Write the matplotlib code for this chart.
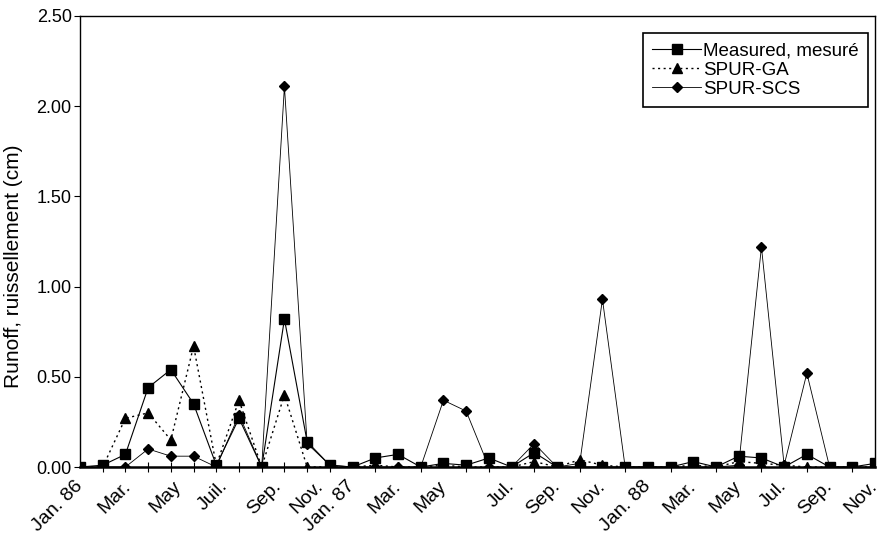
import matplotlib
matplotlib.use("Agg")
import matplotlib.pyplot as plt
from matplotlib.ticker import FixedLocator, FixedFormatter, MultipleLocator, FormatStrFormatter

plt.rcParams['font.family'] = ['Liberation Sans', 'DejaVu Sans']

# monthly runoff values (cm), Jan 86 -> Nov 88 (36 categories)
measured = [0, 0.01, 0.07, 0.44, 0.54, 0.35, 0.01, 0.27, 0, 0.82, 0.14, 0.01, 0,
            0.05, 0.07, 0, 0.02, 0.01, 0.05, 0, 0.08, 0, 0, 0, 0,
            0, 0, 0.03, 0, 0.06, 0.05, 0, 0.07, 0, 0, 0.02]
spur_ga = [0, 0, 0.27, 0.30, 0.15, 0.67, 0.01, 0.37, 0, 0.40, 0, 0, 0,
           0.01, 0, 0, 0.01, 0, 0, 0, 0.03, 0, 0.04, 0.01, 0,
           0, 0, 0.01, 0, 0.03, 0.02, 0.01, 0, 0, 0, 0]
spur_scs = [0, 0, 0, 0.10, 0.06, 0.06, 0, 0.29, 0, 2.11, 0.13, 0.01, 0,
            0, 0, 0, 0.37, 0.31, 0, 0, 0.13, 0, 0.02, 0.93, 0,
            0, 0, 0, 0, 0.01, 1.22, 0.01, 0.52, 0, 0, 0]

month_labels = ['Jan. 86', 'Mar.', 'May', 'Juil.', 'Sep.', 'Nov.', 'Jan. 87',
                'Mar.', 'May', 'Jul.', 'Sep.', 'Nov.', 'Jan. 88',
                'Mar.', 'May', 'Jul.', 'Sep.', 'Nov.']
label_pos = [0, 2.1, 4.35, 6.4, 8.75, 10.6, 12,
             14, 16, 19, 21, 23, 25, 27, 29, 31, 33, 35]

x = list(range(len(measured)))

fig = plt.figure(figsize=(8.84, 5.44), dpi=100)
ax = fig.add_axes([80 / 884, 77 / 544, 795 / 884, 451 / 544])

ax.plot(x, spur_scs, color='black', lw=0.6, marker='D', ms=5.5,
        label='SPUR-SCS', zorder=3)
ax.plot(x, spur_ga, color='black', lw=1.0, ls=(0, (1.5, 2.5)), marker='^', ms=6.5,
        label='SPUR-GA', zorder=4)
ax.plot(x, measured, color='black', lw=0.8, marker='s', ms=6.5,
        label='Measured, mesuré', zorder=5)

ax.set_xlim(0, 35)
ax.set_ylim(0, 2.5)

ax.yaxis.set_major_locator(MultipleLocator(0.5))
ax.yaxis.set_major_formatter(FormatStrFormatter('%.2f'))
ax.tick_params(axis='y', direction='out', length=4, width=0.8, labelsize=13, pad=2)

ax.xaxis.set_major_locator(FixedLocator(label_pos))
ax.xaxis.set_major_formatter(FixedFormatter(month_labels))
ax.xaxis.set_minor_locator(FixedLocator(x))
ax.tick_params(axis='x', which='major', length=0, labelsize=14, pad=12)
ax.tick_params(axis='x', which='minor', direction='inout', length=7, width=0.8)
for lab in ax.get_xticklabels():
    lab.set_rotation(45)
    lab.set_ha('right')
    lab.set_va('center')
    lab.set_rotation_mode('anchor')

for s in ['top', 'right', 'left']:
    ax.spines[s].set_linewidth(1.0)
ax.spines['bottom'].set_linewidth(1.8)

ax.set_ylabel('Runoff, ruissellement (cm)', fontsize=15)
ax.yaxis.set_label_coords(-0.072, 0.446)

handles, labels = ax.get_legend_handles_labels()
order = [2, 1, 0]
leg = ax.legend([handles[i] for i in order], [labels[i] for i in order],
                loc='upper right', bbox_to_anchor=(0.991, 0.962), borderaxespad=0,
                fontsize=13.5, fancybox=False, edgecolor='black', framealpha=1,
                handlelength=2.6, handletextpad=0.1, labelspacing=0.1,
                borderpad=0.5, numpoints=1)
leg.get_frame().set_linewidth(1.2)

fig.savefig('out.png', dpi=100)
